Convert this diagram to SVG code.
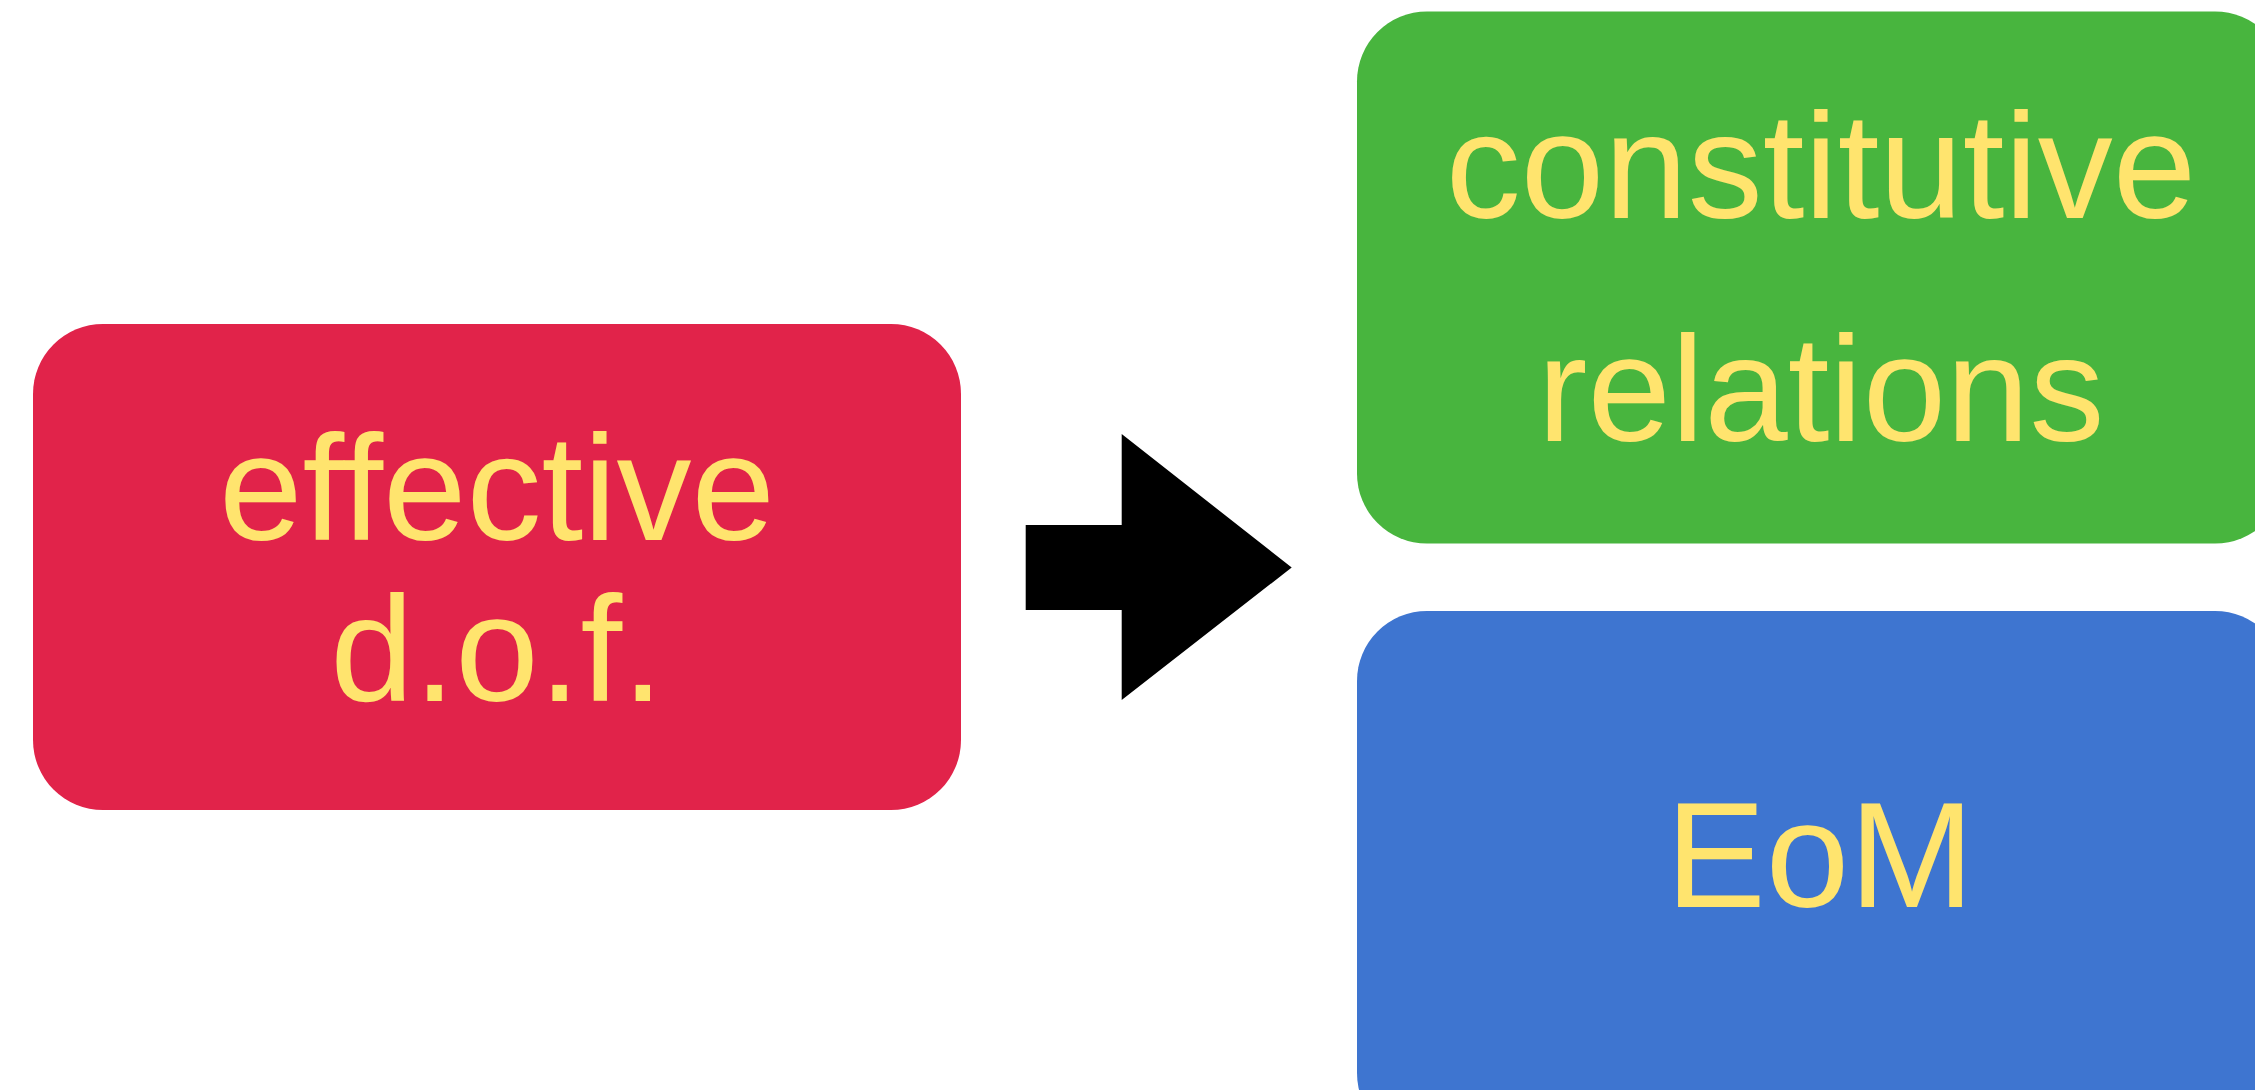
<svg xmlns="http://www.w3.org/2000/svg" width="2255" height="1090" viewBox="0 0 2255 1090">
  <style>
    .box { stroke: none; }
    .lbl { font-family: "Liberation Sans", Arial, Helvetica, sans-serif; font-size: 150px; fill: #FFE46E; text-anchor: middle; }
  </style>
  <rect width="2255" height="1090" fill="#FFFFFF"/>
  <g id="connectors">
    <polygon id="arrow" points="1025.7,525 1121.7,525 1121.7,434 1291.7,567.5 1121.7,700 1121.7,610 1025.7,610" fill="#000000"/>
  </g>
  <g id="node-effective-dof">
    <rect class="box" x="33" y="324" width="928" height="486" rx="70" ry="70" fill="#E1234A"/>
    <text class="lbl" x="497" y="540">effective</text>
    <text class="lbl" x="497" y="701">d.o.f.</text>
  </g>
  <g id="node-constitutive">
    <rect class="box" x="1357" y="11.5" width="928" height="532" rx="70" ry="70" fill="#48B53E"/>
    <text class="lbl" x="1821" y="218">constitutive</text>
    <text class="lbl" x="1821" y="441">relations</text>
  </g>
  <g id="node-eom">
    <rect class="box" x="1357" y="611" width="928" height="532" rx="70" ry="70" fill="#3E75D0"/>
    <text class="lbl" x="1820" y="906.5">EoM</text>
  </g>
</svg>
